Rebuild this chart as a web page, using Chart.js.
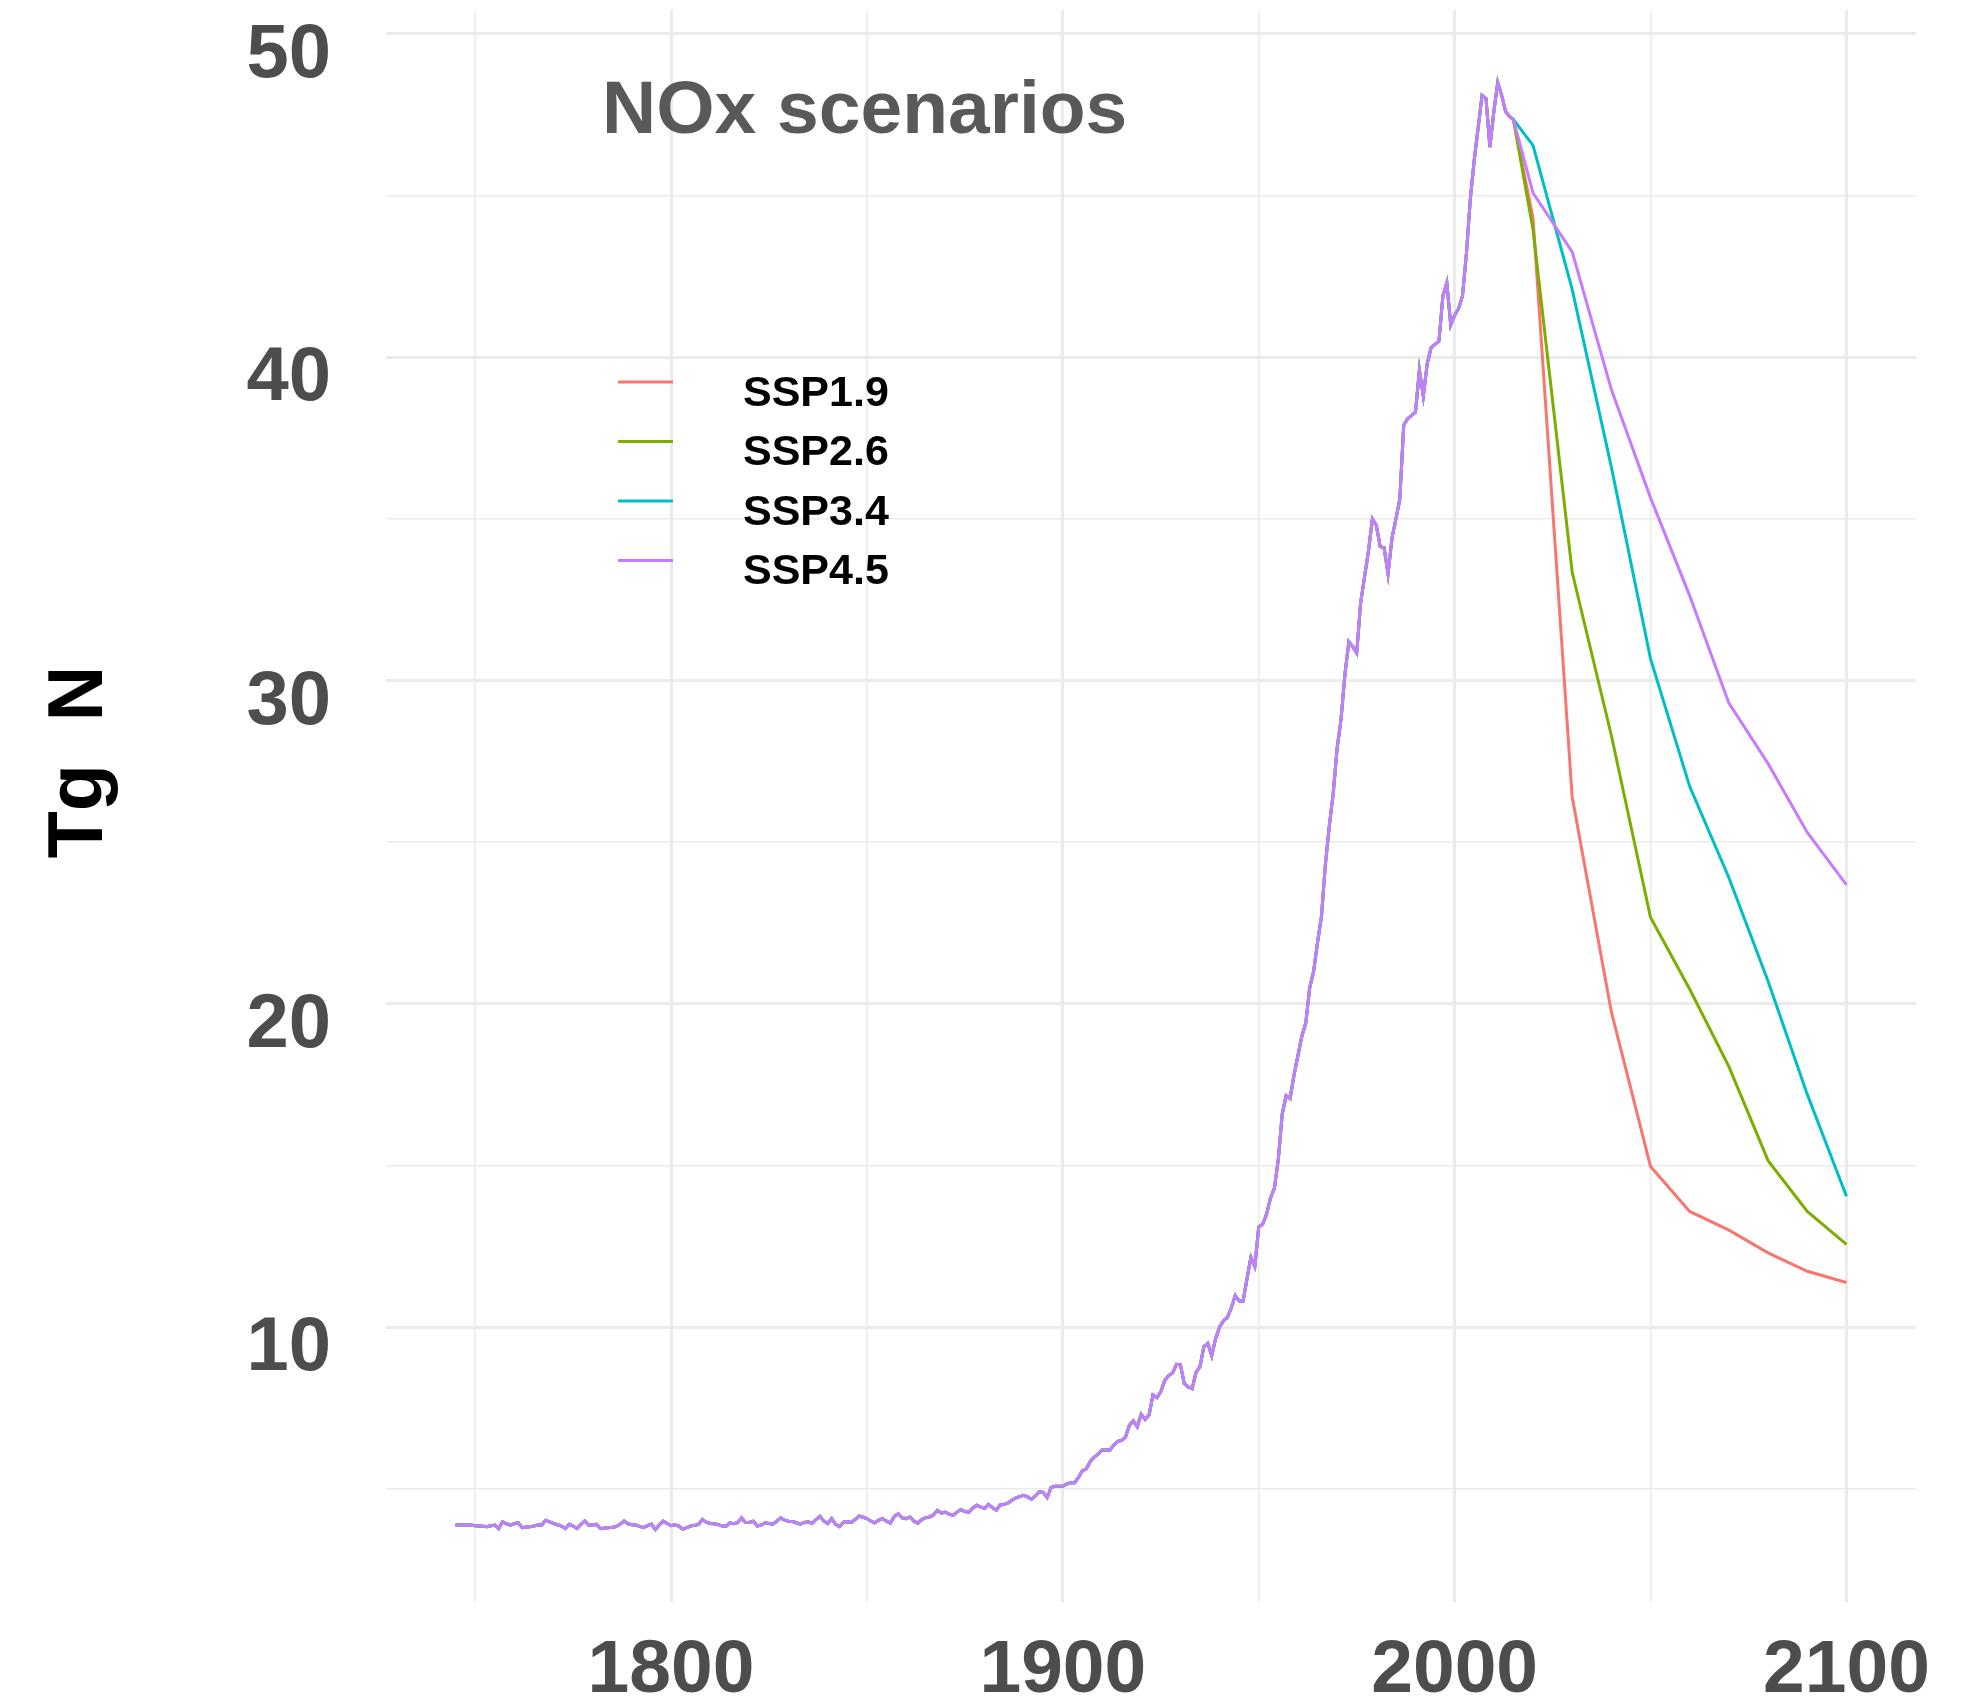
<!DOCTYPE html>
<html>
<head>
<meta charset="utf-8">
<title>NOx scenarios</title>
<script src="https://cdn.jsdelivr.net/npm/chart.js@4.4.1/dist/chart.umd.min.js"></script>
<style>
  html, body { margin: 0; padding: 0; background: #ffffff; }
  #wrap { width: 1983px; height: 1704px; }
</style>
</head>
<body>
<div id="wrap"><canvas id="noxChart" width="1983" height="1704"></canvas></div>
<script>
// historical emissions, one value per year from 1745 to 2015 (Tg N)
const firstYear = 1745;
const histValues = [
  3.88, 3.88, 3.88, 3.88, 3.88,
  3.86, 3.85, 3.84, 3.83, 3.86, 3.88, 3.77, 3.98, 3.92, 3.88,
  3.92, 3.95, 3.80, 3.82, 3.83, 3.85, 3.88, 3.88, 4.03, 3.98,
  3.93, 3.89, 3.85, 3.77, 3.90, 3.85, 3.77, 3.90, 4.01, 3.87,
  3.89, 3.90, 3.77, 3.79, 3.80, 3.81, 3.83, 3.90, 4.01, 3.92,
  3.89, 3.88, 3.84, 3.80, 3.86, 3.91, 3.74, 3.88, 4.00, 3.93,
  3.86, 3.89, 3.85, 3.75, 3.80, 3.85, 3.87, 3.90, 4.05, 3.97,
  3.93, 3.92, 3.90, 3.85, 3.84, 3.95, 3.92, 3.95, 4.10, 3.96,
  3.97, 4.00, 3.85, 3.88, 3.95, 3.93, 3.91, 4.00, 4.10, 4.03,
  4.00, 3.99, 3.95, 3.91, 3.96, 3.98, 3.93, 4.05, 4.15, 4.00,
  3.93, 4.08, 3.90, 3.83, 3.97, 3.98, 3.96, 4.05, 4.16, 4.12,
  4.08, 4.00, 3.95, 4.03, 4.08, 4.00, 3.94, 4.15, 4.23, 4.10,
  4.08, 4.13, 4.00, 3.94, 4.05, 4.11, 4.13, 4.20, 4.34, 4.25,
  4.28, 4.22, 4.18, 4.28, 4.36, 4.30, 4.28, 4.40, 4.49, 4.44,
  4.39, 4.52, 4.42, 4.34, 4.50, 4.52, 4.56, 4.65, 4.72, 4.76,
  4.80, 4.75, 4.68, 4.78, 4.91, 4.89, 4.73, 5.04, 5.08, 5.08,
  5.08, 5.15, 5.19, 5.19, 5.35, 5.56, 5.62, 5.85, 5.98, 6.07,
  6.20, 6.20, 6.20, 6.35, 6.47, 6.50, 6.60, 6.97, 7.10, 6.92,
  7.31, 7.15, 7.28, 7.90, 7.82, 8.00, 8.35, 8.50, 8.58, 8.85,
  8.84, 8.25, 8.15, 8.10, 8.60, 8.78, 9.40, 9.50, 9.12, 9.65,
  10.00, 10.20, 10.30, 10.60, 10.98, 10.81, 10.81, 11.50, 12.16, 11.88,
  13.10, 13.18, 13.50, 14.00, 14.30, 15.20, 16.60, 17.16, 17.07, 17.80,
  18.40, 19.00, 19.40, 20.50, 21.00, 21.90, 22.70, 24.30, 25.50, 26.50,
  27.90, 28.80, 30.20, 31.20, 31.05, 30.85, 32.40, 33.20, 34.00, 35.00,
  34.80, 34.14, 34.10, 33.30, 34.40, 35.00, 35.60, 37.90, 38.10, 38.20,
  38.30, 39.60, 38.80, 39.80, 40.30, 40.40, 40.50, 41.90, 42.30, 41.00,
  41.30, 41.50, 41.90, 43.20, 44.90, 46.10, 47.10, 48.10, 48.00, 46.50,
  47.60, 48.50, 48.10, 47.60, 47.45, 47.35
];

// scenario projections after 2015
const futureYears = [2020, 2030, 2040, 2050, 2060, 2070, 2080, 2090, 2100];
const ssp19 = [44.30, 26.40, 19.75, 14.97, 13.58, 13.00, 12.30, 11.73, 11.38];
const ssp26 = [43.95, 33.35, 28.30, 22.67, 20.45, 18.06, 15.15, 13.58, 12.56];
const ssp34 = [46.55, 42.10, 36.60, 30.67, 26.72, 23.90, 20.70, 17.20, 14.05];
const ssp45 = [45.08, 43.26, 39.00, 35.65, 32.62, 29.30, 27.43, 25.30, 23.68];

const scenarioNames = ['SSP1.9', 'SSP2.6', 'SSP3.4', 'SSP4.5'];
const scenarioValues = [ssp19, ssp26, ssp34, ssp45];
const scenarioColors = ['#F8766D', '#7CAE00', '#00BFC4', '#C77CFF'];

// axis breaks
const xBreaks = [1750, 1800, 1850, 1900, 1950, 2000, 2050, 2100];
const xLabels = [1800, 1900, 2000, 2100];
const yBreaks = [5, 10, 15, 20, 25, 30, 35, 40, 45, 50];
const yLabels = [10, 20, 30, 40, 50];

const chartTitle = 'NOx scenarios';
const yTitle = 'Tg  N';

const FONT = "'Liberation Sans', Arial, Helvetica, sans-serif";
const gridColor = '#EBEBEB';

const histPoints = histValues.map((v, i) => ({ x: firstYear + i, y: v }));

const datasets = scenarioNames.map((name, k) => ({
  label: name,
  data: histPoints.concat(futureYears.map((yr, i) => ({ x: yr, y: scenarioValues[k][i] }))),
  borderColor: scenarioColors[k],
  backgroundColor: scenarioColors[k],
  borderWidth: 3,
  pointRadius: 0,
  tension: 0,
  fill: false,
  order: scenarioNames.length - k   // last scenario drawn on top, like ggplot
}));

// title, legend and y-axis title drawn inside the canvas
const overlay = {
  id: 'noxOverlay',
  afterDatasetsDraw(chart) {
    const ctx = chart.ctx;
    ctx.save();
    ctx.fillStyle = '#595959';
    ctx.font = 'bold 75px ' + FONT;
    ctx.textAlign = 'left';
    ctx.textBaseline = 'alphabetic';
    ctx.fillText(chartTitle, 602, 133);

    chart.data.datasets.forEach((ds, i) => {
      const y = 382 + i * 59.5;
      ctx.strokeStyle = ds.borderColor;
      ctx.lineWidth = 3;
      ctx.beginPath();
      ctx.moveTo(618, y);
      ctx.lineTo(673, y);
      ctx.stroke();
      ctx.fillStyle = '#000000';
      ctx.font = 'bold 43px ' + FONT;
      ctx.fillText(ds.label, 743, y + 23.5);
    });

    ctx.translate(81, 762);
    ctx.rotate(-Math.PI / 2);
    ctx.textAlign = 'center';
    ctx.textBaseline = 'middle';
    ctx.font = 'bold 77px ' + FONT;
    ctx.fillStyle = '#000000';
    ctx.fillText(yTitle, 0, 0);
    ctx.restore();
  }
};

const ctx = document.getElementById('noxChart').getContext('2d');
const chart = new Chart(ctx, {
  type: 'line',
  data: { datasets: datasets },
  options: {
    responsive: false,
    animation: false,
    devicePixelRatio: 1,
    layout: { padding: { left: 0, right: 67, top: 10, bottom: 0 } },
    plugins: {
      legend: { display: false },
      tooltip: { enabled: false },
      title: { display: false }
    },
    scales: {
      x: {
        type: 'linear',
        min: 1727.25,
        max: 2117.75,
        afterBuildTicks: axis => { axis.ticks = xBreaks.map(v => ({ value: v })); },
        afterFit: axis => {
          axis.height = 102;
          axis.paddingLeft = 0;
          axis.paddingRight = 0;
        },
        ticks: {
          autoSkip: false,
          maxRotation: 0,
          minRotation: 0,
          padding: 24,
          color: '#4D4D4D',
          font: { family: FONT, size: 75, weight: 'bold' },
          callback: v => xLabels.includes(v) ? String(v) : ''
        },
        grid: {
          color: gridColor,
          lineWidth: c => (c.tick && xLabels.includes(c.tick.value)) ? 3 : 1.5,
          drawTicks: false
        },
        border: { display: false }
      },
      y: {
        type: 'linear',
        min: 1.5,
        max: 50.74,
        afterBuildTicks: axis => { axis.ticks = yBreaks.map(v => ({ value: v })); },
        afterFit: axis => {
          axis.width = 386;
          axis.paddingTop = 0;
          axis.paddingBottom = 0;
        },
        ticks: {
          autoSkip: false,
          padding: 55,
          labelOffset: 22,
          color: '#4D4D4D',
          font: { family: FONT, size: 76, weight: 'bold' },
          callback: v => yLabels.includes(v) ? String(v) : ''
        },
        grid: {
          color: gridColor,
          lineWidth: c => (c.tick && yLabels.includes(c.tick.value)) ? 3 : 1.5,
          drawTicks: false
        },
        border: { display: false }
      }
    }
  },
  plugins: [overlay]
});
</script>
</body>
</html>
